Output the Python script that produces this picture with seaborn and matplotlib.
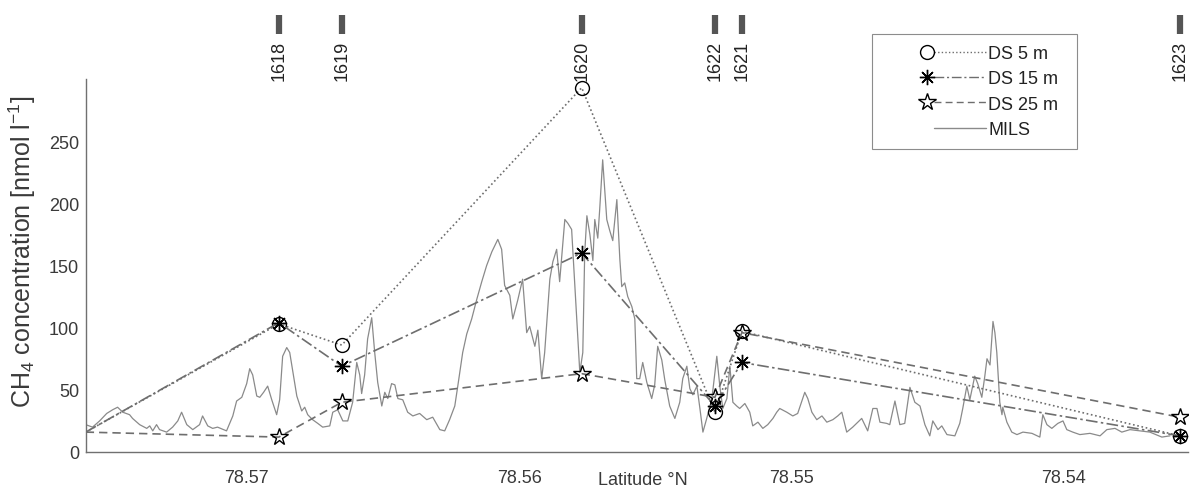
import matplotlib
matplotlib.use("Agg")
import matplotlib.pyplot as plt
import matplotlib.transforms as mtransforms
from matplotlib.legend_handler import HandlerLine2D
from matplotlib.lines import Line2D
import seaborn as sns

# ---- station positions (latitude, °N) -------------------------------------
stations = ["1618", "1619", "1620", "1622", "1621", "1623"]
station_lat = [78.56882, 78.56651, 78.55770, 78.55281, 78.55182, 78.53574]

# ---- discrete samples: first entry is the western end of the transect ------
ds_lat = [78.57591] + station_lat
ds_5m = [16, 103, 86, 293, 32, 97, 13]
ds_15m = [16, 104, 69, 160, 37, 72, 13]
ds_25m = [16, 12, 40, 63, 44, 96, 28]

# ---- continuous MILS record -------------------------------------------------
mils_lat = [
    78.57591, 78.57566, 78.57540, 78.57514, 78.57492, 78.57474, 78.57455, 78.57430,
    78.57419, 78.57393, 78.57367, 78.57356, 78.57345, 78.57331, 78.57320, 78.57294,
    78.57272, 78.57253, 78.57239, 78.57220, 78.57198, 78.57173, 78.57162, 78.57143,
    78.57125, 78.57107, 78.57074, 78.57051, 78.57037, 78.57018, 78.57000, 78.56989,
    78.56978, 78.56963, 78.56952, 78.56938, 78.56923, 78.56908, 78.56890, 78.56879,
    78.56868, 78.56853, 78.56842, 78.56831, 78.56816, 78.56798, 78.56787, 78.56776,
    78.56758, 78.56739, 78.56721, 78.56695, 78.56684, 78.56666, 78.56647, 78.56629,
    78.56611, 78.56596, 78.56585, 78.56578, 78.56567, 78.56556, 78.56541, 78.56530,
    78.56519, 78.56504, 78.56493, 78.56482, 78.56468, 78.56456, 78.56445, 78.56427,
    78.56409, 78.56390, 78.56365, 78.56339, 78.56317, 78.56291, 78.56273, 78.56255,
    78.56236, 78.56225, 78.56207, 78.56192, 78.56174, 78.56155, 78.56137, 78.56119,
    78.56100, 78.56078, 78.56064, 78.56053, 78.56034, 78.56023, 78.56005, 78.55987,
    78.55972, 78.55961, 78.55942, 78.55931, 78.55917, 78.55906, 78.55887, 78.55876,
    78.55862, 78.55851, 78.55832, 78.55821, 78.55807, 78.55788, 78.55777, 78.55766,
    78.55759, 78.55751, 78.55740, 78.55729, 78.55722, 78.55711, 78.55704, 78.55693,
    78.55678, 78.55667, 78.55656, 78.55641, 78.55630, 78.55623, 78.55612, 78.55601,
    78.55586, 78.55575, 78.55568, 78.55557, 78.55546, 78.55531, 78.55513, 78.55502,
    78.55491, 78.55476, 78.55465, 78.55447, 78.55428, 78.55410, 78.55399, 78.55384,
    78.55373, 78.55362, 78.55347, 78.55336, 78.55325, 78.55311, 78.55292, 78.55274,
    78.55263, 78.55252, 78.55237, 78.55226, 78.55215, 78.55201, 78.55190, 78.55171,
    78.55153, 78.55142, 78.55123, 78.55105, 78.55087, 78.55068, 78.55054, 78.55043,
    78.55017, 78.54995, 78.54977, 78.54951, 78.54940, 78.54925, 78.54907, 78.54888,
    78.54870, 78.54848, 78.54830, 78.54815, 78.54797, 78.54775, 78.54742, 78.54731,
    78.54720, 78.54701, 78.54686, 78.54675, 78.54650, 78.54639, 78.54620, 78.54602,
    78.54584, 78.54565, 78.54547, 78.54528, 78.54510, 78.54492, 78.54481, 78.54462,
    78.54448, 78.54429, 78.54400, 78.54382, 78.54371, 78.54356, 78.54345, 78.54327,
    78.54316, 78.54301, 78.54290, 78.54282, 78.54271, 78.54260, 78.54253, 78.54246,
    78.54235, 78.54227, 78.54224, 78.54209, 78.54191, 78.54172, 78.54150, 78.54117,
    78.54088, 78.54077, 78.54062, 78.54044, 78.54022, 78.54003, 78.53989, 78.53967,
    78.53941, 78.53904, 78.53867, 78.53842, 78.53812, 78.53787, 78.53757, 78.53721,
    78.53684, 78.53640, 78.53610,
]
mils_ch4 = [
    22, 20, 25, 31, 34, 36, 32, 30,
    27, 22, 19, 21, 17, 22, 18, 16,
    20, 25, 32, 22, 18, 22, 29, 21,
    19, 20, 17, 29, 41, 44, 55, 67,
    62, 45, 44, 48, 53, 42, 30, 42,
    77, 84, 80, 65, 45, 33, 36, 30,
    26, 23, 20, 21, 32, 34, 25, 25,
    40, 72, 62, 47, 62, 91, 108, 80,
    56, 37, 48, 43, 55, 54, 43, 42,
    32, 29, 31, 26, 28, 18, 17, 26,
    37, 53, 80, 95, 107, 123, 137, 150,
    161, 171, 163, 134, 126, 107, 122, 139,
    96, 101, 85, 98, 59, 80, 139, 153,
    163, 137, 187, 184, 179, 107, 64, 80,
    160, 190, 175, 154, 187, 172, 195, 235,
    187, 178, 170, 203, 155, 133, 136, 125,
    117, 107, 59, 59, 72, 56, 43, 54,
    85, 74, 58, 37, 27, 40, 59, 69,
    51, 46, 53, 35, 16, 27, 43, 77,
    53, 35, 43, 69, 40, 37, 35, 39,
    32, 21, 24, 19, 22, 27, 32, 35,
    32, 29, 31, 48, 43, 32, 26, 29,
    24, 26, 29, 32, 16, 20, 27, 22,
    17, 35, 35, 24, 23, 22, 41, 22,
    23, 52, 40, 37, 22, 13, 25, 18,
    21, 14, 13, 23, 35, 53, 42, 61,
    55, 44, 61, 75, 70, 105, 96, 80,
    40, 30, 36, 24, 16, 14, 16, 15,
    12, 30, 22, 19, 23, 25, 18, 16,
    14, 15, 13, 18, 19, 16, 18, 17,
    16, 12, 13,
]

x_ticks = [78.57, 78.56, 78.55, 78.54]
y_ticks = [0, 50, 100, 150, 200, 250, 300]
x_limits = (78.5759, 78.53544)

# ---- style -----------------------------------------------------------------
sns.set_style("white")
plt.rcParams["font.family"] = ["Liberation Sans", "DejaVu Sans"]
plt.rcParams["mathtext.fontset"] = "custom"
plt.rcParams["mathtext.rm"] = "Liberation Sans"
plt.rcParams["mathtext.it"] = "Liberation Sans:italic"
plt.rcParams["mathtext.default"] = "regular"

LINE_GREY = "#6e6e6e"
MILS_GREY = "#8a8a8a"
TEXT_GREY = "#3a3a3a"

fig = plt.figure(figsize=(11.9, 4.89), dpi=100)
ax = fig.add_axes([86 / 1190, 36 / 489, 1102 / 1190, 373 / 489])

# continuous record
sns.lineplot(x=mils_lat, y=mils_ch4, sort=False, estimator=None, ax=ax,
             color=MILS_GREY, linewidth=0.9, legend=False, zorder=2)

series = [
    ("DS 5 m", ds_5m, "o", (0, (1, 1.6)), 10),
    ("DS 15 m", ds_15m, (8, 2, 0), (0, (7, 2, 1.5, 2)), 11),
    ("DS 25 m", ds_25m, "*", (0, (5, 3)), 13),
]
legend_handles = []
for name, values, marker, dash, msize in series:
    sns.lineplot(x=ds_lat, y=values, sort=False, estimator=None, ax=ax,
                 color=LINE_GREY, linewidth=1.2, linestyle=dash,
                 marker=marker, markersize=msize, markerfacecolor="none",
                 markeredgecolor="black", markeredgewidth=1.0,
                 markevery=list(range(1, len(ds_lat))), legend=False, zorder=3)
    legend_handles.append(Line2D([], [], color=LINE_GREY, linewidth=1.0,
                                 linestyle=dash, marker=marker, markersize=msize,
                                 markerfacecolor="none", markeredgecolor="black",
                                 markeredgewidth=1.0, label=name))
legend_handles.append(Line2D([], [], color=MILS_GREY, linewidth=1.0, label="MILS"))

# axes
ax.set_xlim(*x_limits)
ax.set_ylim(0, 300)
ax.set_xticks(x_ticks)
ax.set_xticklabels([f"{t:.2f}" for t in x_ticks])
ax.set_yticks(y_ticks)
ax.set_yticklabels([str(t) if t < 300 else "" for t in y_ticks])
for side in ("top", "right"):
    ax.spines[side].set_visible(False)
for side in ("left", "bottom"):
    ax.spines[side].set_color("#707070")
    ax.spines[side].set_linewidth(1.0)
ax.tick_params(axis="both", direction="in", length=8, width=0.8,
               color="#bdbdbd", labelcolor=TEXT_GREY, labelsize=13)
ax.tick_params(axis="x", pad=12)
ax.tick_params(axis="y", pad=5)

ax.set_xlabel("Latitude °N", fontsize=13, color=TEXT_GREY)
ax.xaxis.set_label_coords(0.505, -0.052)
ax.set_ylabel("CH$_4$ concentration [nmol l$^{-1}$]", fontsize=18, color=TEXT_GREY)
ax.yaxis.set_label_coords(-0.044, 0.54)

# station marks above the plot
top = mtransforms.blended_transform_factory(ax.transData, ax.transAxes)
ax.vlines(station_lat, 1.12, 1.172, transform=top, colors="#555555",
          linewidth=4.5, clip_on=False)
for name, lat in zip(stations, station_lat):
    ax.text(lat, 1.105, name, transform=top, rotation=90, ha="center",
            va="top", fontsize=13, color="#222222", clip_on=False)


class MarkerLeftHandler(HandlerLine2D):
    """Legend entry with the marker at the left and the line to its right."""

    def create_artists(self, legend, orig_handle, xdescent, ydescent,
                       width, height, fontsize, trans):
        y = height / 2.0 - ydescent
        x0 = -xdescent
        line = Line2D([x0 + 0.5 * width, x0 + width], [y, y])
        self.update_prop(line, orig_handle, legend)
        line.set_marker("None")
        line.set_transform(trans)
        artists = [line]
        if orig_handle.get_marker() not in (None, "None", ""):
            mk = Line2D([x0 + 0.43 * width], [y])
            self.update_prop(mk, orig_handle, legend)
            mk.set_linestyle("None")
            mk.set_markevery(None)
            mk.set_transform(trans)
            artists.append(mk)
        return artists


leg = fig.legend(handles=legend_handles, loc="upper left",
                 bbox_to_anchor=(872 / 1190, 1 - 35 / 489 - 0.01, 205 / 1190, 0.01),
                 bbox_transform=fig.transFigure, mode="expand", borderaxespad=0,
                 fontsize=13, handlelength=5.7, handletextpad=0.15,
                 borderpad=0.6, labelspacing=0.47, fancybox=False,
                 frameon=True, handler_map={Line2D: MarkerLeftHandler()})
leg.get_frame().set_edgecolor("#8c8c8c")
leg.get_frame().set_linewidth(0.8)
leg.get_frame().set_facecolor("white")
leg.get_frame().set_alpha(1.0)
for t in leg.get_texts():
    t.set_color("#222222")

fig.savefig("out.png", dpi=100)
